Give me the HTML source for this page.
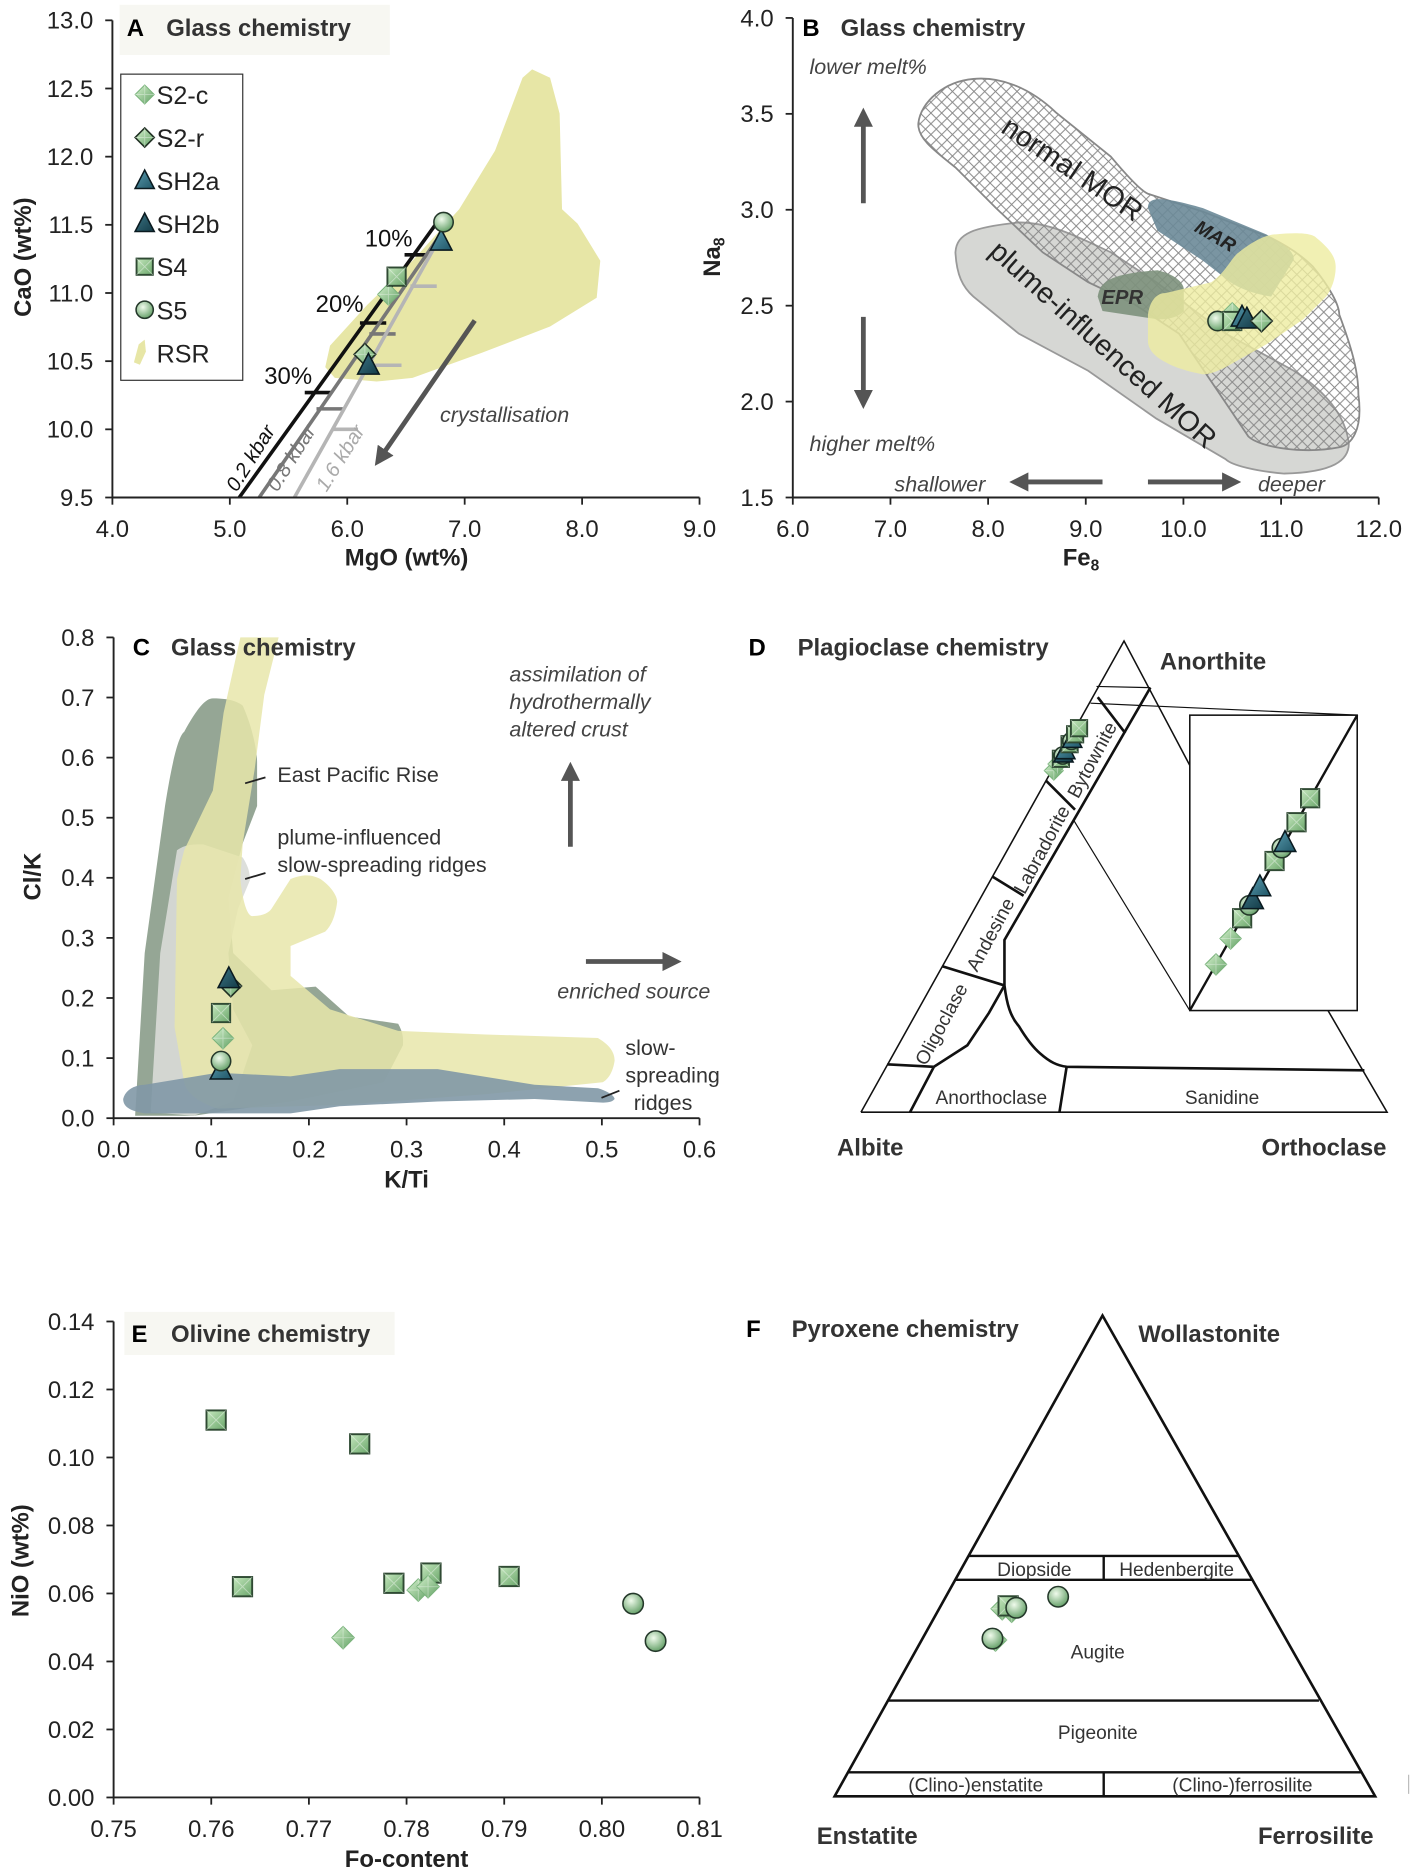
<!DOCTYPE html>
<html><head><meta charset="utf-8"><title>Glass, plagioclase, olivine and pyroxene chemistry</title>
<style>
html,body{margin:0;padding:0;background:#fff;}
svg{display:block;font-family:"Liberation Sans",Arial,sans-serif;}
.tk{font-size:20px;fill:#222;}
.ttl{font-size:20px;font-weight:bold;fill:#333;}
.lbl{font-size:18px;fill:#333;}
.it{font-size:18px;font-style:italic;fill:#444;}
.ax{font-size:20px;font-weight:bold;fill:#222;}
</style></head>
<body>
<svg id="fig" width="1417" height="1874" viewBox="0 0 1185 1567" preserveAspectRatio="none" xmlns="http://www.w3.org/2000/svg">
<defs>
<linearGradient id="gD" x1="0" y1="0" x2="1" y2="1"><stop offset="0" stop-color="#d8f3d0"/><stop offset="1" stop-color="#5f9f62"/></linearGradient>
<linearGradient id="gS" x1="0" y1="0" x2="1" y2="1"><stop offset="0" stop-color="#c6e8bf"/><stop offset="1" stop-color="#6aa66a"/></linearGradient>
<radialGradient id="gC" cx="0.4" cy="0.35" r="0.7"><stop offset="0" stop-color="#f0fbec"/><stop offset="1" stop-color="#5e9c62"/></radialGradient>
<linearGradient id="gT" x1="0" y1="0" x2="1" y2="1"><stop offset="0" stop-color="#5b9db0"/><stop offset="1" stop-color="#1f5566"/></linearGradient>
<linearGradient id="gT2" x1="0" y1="0" x2="1" y2="1"><stop offset="0" stop-color="#3d7585"/><stop offset="1" stop-color="#133b47"/></linearGradient>
<pattern id="hatch" width="9" height="9" patternUnits="userSpaceOnUse"><path d="M0 0L9 9M9 0L0 9" stroke="#888" stroke-width="0.8"/></pattern>
<marker id="ah" markerWidth="4" markerHeight="4" refX="2" refY="2" orient="auto"><path d="M0 0L4 2L0 4z" fill="#555"/></marker>
</defs>

<!-- ================= PANEL A ================= -->
<g>
  <rect x="100" y="4" width="226" height="42" fill="#f7f7f2"/>
  <text x="106" y="30" class="ttl" style="fill:#000">A</text>
  <text x="139" y="30" class="ttl">Glass chemistry</text>
  <path fill="#e7e6a6" d="M272,307 L276,289 L307,255 L345,218 L384,175 L414,126 L437,65 L445,58 L460,65 L468,95 L470,175 L483,187 L502,218 L499,249 L460,273 L403,295 L345,316 L315,319 L280,316 Z"/>
  <g id="aModel"></g>
  <g id="aMarks"></g>
  <g id="aAxes"></g>
  <line x1="397" y1="268" x2="318" y2="383" stroke="#555" stroke-width="4" marker-end="url(#ah)"/>
  <text x="368" y="353" class="it">crystallisation</text>
  <text x="305" y="206" style="font-size:20px;fill:#111">10%</text>
  <text x="264" y="261" style="font-size:20px;fill:#111">20%</text>
  <text x="221" y="321" style="font-size:20px;fill:#111">30%</text>
  <text transform="translate(198,412) rotate(-58)" style="font-size:17px;font-style:italic;fill:#111">0.2 kbar</text>
  <text transform="translate(232,412) rotate(-58)" style="font-size:17px;font-style:italic;fill:#777">0.8 kbar</text>
  <text transform="translate(273,412) rotate(-58)" style="font-size:17px;font-style:italic;fill:#aaa">1.6 kbar</text>
  <g>
    <rect x="101" y="62" width="102" height="256" fill="#fff" stroke="#333" stroke-width="1"/>
    <g id="legendMarks"></g>
    <text x="131" y="87" style="font-size:21px;fill:#222">S2-c</text>
    <text x="131" y="123" style="font-size:21px;fill:#222">S2-r</text>
    <text x="131" y="159" style="font-size:21px;fill:#222">SH2a</text>
    <text x="131" y="195" style="font-size:21px;fill:#222">SH2b</text>
    <text x="131" y="231" style="font-size:21px;fill:#222">S4</text>
    <text x="131" y="267" style="font-size:21px;fill:#222">S5</text>
    <path d="M112,303 L116,288 L121,284 L122,294 L117,305 Z" fill="#e7e6a6"/>
    <text x="131" y="303" style="font-size:21px;fill:#222">RSR</text>
  </g>
  <text transform="translate(26,215) rotate(-90)" text-anchor="middle" class="ax">CaO (wt%)</text>
  <text x="340" y="473" text-anchor="middle" class="ax">MgO (wt%)</text>
</g>

<!-- ================= PANEL B ================= -->
<g>
  <text x="671" y="30" class="ttl" style="fill:#000">B</text>
  <text x="703" y="30" class="ttl">Glass chemistry</text>
  <path fill="#cfd0cc" fill-opacity="0.85" stroke="#999" stroke-width="1.5" d="M799,211 C800,195 814,190 852,186 C880,186 905,200 929,211 L967,236 L1025,279 L1082,310 C1105,325 1125,345 1128,371 C1128,385 1115,395 1074,396 C1050,394 1030,389 1025,384 L967,350 L910,310 L852,279 L814,248 C805,240 800,230 799,211 Z"/>
  <path fill="url(#hatch)" stroke="#888" stroke-width="1.5" d="M768,103 C770,85 790,68 814,66 C835,64 860,72 883,94 L929,131 C945,150 955,160 960,162 L1006,177 L1063,199 C1085,210 1095,220 1098,223 C1112,240 1120,255 1120,263 C1130,290 1136,310 1136,330 C1140,360 1130,372 1120,374 C1100,378 1085,376 1082,376 C1060,374 1048,369 1044,365 L1017,325 L986,279 L948,254 L910,236 L872,211 L833,174 L799,140 C780,125 767,115 768,103 Z"/>
  <path fill="#6b8998" fill-opacity="0.9" d="M960,174 C960,165 968,163 1006,174 L1059,196 C1075,205 1082,210 1082,217 L1063,248 C1045,245 1035,240 1029,236 L1006,218 L968,193 Z"/>
  <path fill="#7d917c" fill-opacity="0.9" d="M918,248 C920,235 929,229 968,226 C985,230 990,238 990,242 L990,260 C985,266 975,267 968,267 L922,260 Z"/>
  <path fill="#eeeca0" fill-opacity="0.8" d="M960,263 C962,250 968,245 975,245 L1013,236 C1025,228 1030,215 1036,211 C1050,200 1060,196 1067,196 C1085,194 1098,195 1101,199 C1112,208 1117,215 1117,223 C1117,235 1112,244 1109,248 L1090,267 L1059,288 L1025,307 C1015,312 1010,313 1006,313 C990,310 980,306 975,303 C963,297 960,290 960,285 Z"/>
  <text transform="translate(836,110) rotate(34)" style="font-size:24px;fill:#222">normal MOR</text>
  <text transform="translate(998,193) rotate(30)" style="font-size:16px;font-weight:bold;font-style:italic;fill:#222">MAR</text>
  <text x="921" y="254" style="font-size:17px;font-weight:bold;font-style:italic;fill:#333">EPR</text>
  <text transform="translate(826,212) rotate(42)" style="font-size:24px;fill:#222">plume-influenced MOR</text>
  <g id="bMarks"></g>
  <g id="bAxes"></g>
  <text x="677" y="62" class="it">lower melt%</text>
  <text x="677" y="377" class="it">higher melt%</text>
  <text x="748" y="411" class="it">shallower</text>
  <text x="1052" y="411" class="it">deeper</text>
  <line x1="722" y1="170" x2="722" y2="98" stroke="#555" stroke-width="4" marker-end="url(#ah)"/>
  <line x1="722" y1="265" x2="722" y2="334" stroke="#555" stroke-width="4" marker-end="url(#ah)"/>
  <line x1="922" y1="403" x2="852" y2="403" stroke="#555" stroke-width="4" marker-end="url(#ah)"/>
  <line x1="960" y1="403" x2="1030" y2="403" stroke="#555" stroke-width="4" marker-end="url(#ah)"/>
  <text transform="translate(602,215) rotate(-90)" text-anchor="middle" class="ax">Na<tspan style="font-size:13px" dy="4">8</tspan></text>
  <text x="904" y="473" text-anchor="middle" class="ax">Fe<tspan style="font-size:13px" dy="4">8</tspan></text>
</g>

<!-- ================= PANEL C ================= -->
<g>
  <path fill="#8a9c8a" fill-opacity="0.9" d="M113,933 L121,797 L138,674 C145,630 150,615 154,612 C165,592 172,584 178,584 C195,584 200,588 203,590 C212,610 215,630 215,637 L215,674 L203,705 L191,751 L195,797 L227,828 L264,825 L292,850 L333,856 C338,865 337,870 337,874 L321,905 L243,921 L162,933 Z"/>
  <path fill="#d9dbd7" fill-opacity="0.9" d="M126,930 L134,797 L148,711 C155,706 160,706 170,706 L203,717 C208,725 209,730 209,736 L199,760 L191,797 L195,844 L211,874 L195,921 L162,933 Z"/>
  <path fill="#e7e6aa" fill-opacity="0.85" d="M201,533 L233,533 L221,581 L213,643 L203,705 L201,735 C203,755 207,766 211,766 C220,766 225,763 227,760 L243,735 C255,730 262,732 268,735 C278,742 282,750 282,754 C280,770 275,776 272,779 L243,791 L243,816 L276,844 L333,862 L406,865 L500,868 C512,875 514,882 514,887 C512,900 506,904 504,905 L406,915 L284,924 L182,927 C160,920 155,910 154,905 L146,859 L148,735 L154,711 L178,661 L187,596 Z"/>
  <path fill="#8198a6" fill-opacity="0.9" d="M103,919 C105,910 115,907 121,907 L182,897 L243,900 L284,894 L366,894 L447,907 L500,910 C510,913 514,917 514,919 C512,922 506,922 504,922 L447,919 L366,921 L284,925 L243,931 L121,931 C108,929 103,925 103,919 Z"/>
  <text x="111" y="548" class="ttl" style="fill:#000">C</text>
  <text x="143" y="548" class="ttl">Glass chemistry</text>
  <g id="cMarks"></g>
  <g id="cAxes"></g>
  <line x1="205" y1="655" x2="222" y2="650" stroke="#222" stroke-width="1.5"/>
  <text x="232" y="654" class="lbl">East Pacific Rise</text>
  <line x1="205" y1="735" x2="222" y2="730" stroke="#222" stroke-width="1.5"/>
  <text x="232" y="706" class="lbl">plume-influenced</text>
  <text x="232" y="729" class="lbl">slow-spreading ridges</text>
  <text x="426" y="570" class="it">assimilation of</text>
  <text x="426" y="593" class="it">hydrothermally</text>
  <text x="426" y="616" class="it">altered crust</text>
  <line x1="477" y1="708" x2="477" y2="645" stroke="#555" stroke-width="4" marker-end="url(#ah)"/>
  <line x1="490" y1="804" x2="562" y2="804" stroke="#555" stroke-width="4" marker-end="url(#ah)"/>
  <text x="466" y="835" class="it">enriched source</text>
  <line x1="503" y1="918" x2="518" y2="912" stroke="#222" stroke-width="1.5"/>
  <text x="523" y="882" class="lbl">slow-</text>
  <text x="523" y="905" class="lbl">spreading</text>
  <text x="530" y="928" class="lbl">ridges</text>
  <text transform="translate(34,733) rotate(-90)" text-anchor="middle" class="ax">Cl/K</text>
  <text x="340" y="993" text-anchor="middle" class="ax">K/Ti</text>
</g>

<!-- ================= PANEL D ================= -->
<g fill="none" stroke="#111">
  <text x="626" y="548" class="ttl" style="fill:#000" stroke="none">D</text>
  <text x="667" y="548" class="ttl" stroke="none">Plagioclase chemistry</text>
  <text x="970" y="560" class="ttl" stroke="none">Anorthite</text>
  <text x="700" y="966" class="ttl" stroke="none">Albite</text>
  <text x="1055" y="966" class="ttl" stroke="none">Orthoclase</text>
  <path d="M720,930 L940,536 L995,640 M1110,844 L1160,930 L720,930" stroke-width="1.3"/>
  <path d="M962,575 L840,786 L840,824 C842,840 845,850 852,858 C858,868 864,876 870,881 C878,888 884,891 892,892 L1141,895" stroke-width="2.2"/>
  <path d="M917,574 L962,575" stroke-width="1"/>
  <path d="M918,583 L941,613 M875,653 L899,677 M830,733 L856,749 M788,808 L840,824 M742,890 L781,892" stroke-width="2.2"/>
  <path d="M840,824 L827,847 L809,874 L781,892 L761,930 M892,892 L886,930" stroke-width="2.2"/>
  <path d="M912,588 L1135,598 M898,686 L995,845" stroke-width="1"/>
  <rect x="995" y="598" width="140" height="247" fill="#fff" stroke-width="1.3"/>
  <line x1="995" y1="845" x2="1135" y2="598" stroke-width="2"/>
  <g stroke="none">
    <text transform="translate(918,638) rotate(-61.7)" text-anchor="middle" style="font-size:16px;fill:#333">Bytownite</text>
    <text transform="translate(876,713) rotate(-61.7)" text-anchor="middle" style="font-size:16px;fill:#333">Labradorite</text>
    <text transform="translate(833,784) rotate(-61.7)" text-anchor="middle" style="font-size:16px;fill:#333">Andesine</text>
    <text transform="translate(792,859) rotate(-61.7)" text-anchor="middle" style="font-size:16px;fill:#333">Oligoclase</text>
    <text x="829" y="923" text-anchor="middle" style="font-size:16px;fill:#333">Anorthoclase</text>
    <text x="1022" y="923" text-anchor="middle" style="font-size:16px;fill:#333">Sanidine</text>
  </g>
  <g id="dMarks" stroke="none"></g>
</g>

<!-- ================= PANEL E ================= -->
<g>
  <rect x="104" y="1097" width="226" height="36" fill="#f7f7f2"/>
  <text x="110" y="1122" class="ttl" style="fill:#000">E</text>
  <text x="143" y="1122" class="ttl">Olivine chemistry</text>
  <g id="eMarks"></g>
  <g id="eAxes"></g>
  <text transform="translate(24,1305) rotate(-90)" text-anchor="middle" class="ax">NiO (wt%)</text>
  <text x="340" y="1561" text-anchor="middle" class="ax">Fo-content</text>
</g>

<!-- ================= PANEL F ================= -->
<g fill="none" stroke="#111">
  <text x="624" y="1118" class="ttl" style="fill:#000" stroke="none">F</text>
  <text x="662" y="1118" class="ttl" stroke="none">Pyroxene chemistry</text>
  <text x="952" y="1122" class="ttl" stroke="none">Wollastonite</text>
  <text x="683" y="1542" class="ttl" stroke="none">Enstatite</text>
  <text x="1052" y="1542" class="ttl" stroke="none">Ferrosilite</text>
  <path d="M698,1502 L922,1100 L1150,1502 Z" stroke-width="2.2"/>
  <path d="M810,1301 L1036,1301 M799,1321 L1047,1321 M743,1422 L1103,1422 M709,1482 L1139,1482 M923,1301 L923,1321 M923,1482 L923,1502" stroke-width="2"/>
  <g stroke="none">
    <text x="865" y="1318" text-anchor="middle" style="font-size:16px;fill:#333">Diopside</text>
    <text x="984" y="1318" text-anchor="middle" style="font-size:16px;fill:#333">Hedenbergite</text>
    <text x="918" y="1387" text-anchor="middle" style="font-size:16px;fill:#333">Augite</text>
    <text x="918" y="1454" text-anchor="middle" style="font-size:16px;fill:#333">Pigeonite</text>
    <text x="816" y="1498" text-anchor="middle" style="font-size:16px;fill:#333">(Clino-)enstatite</text>
    <text x="1039" y="1498" text-anchor="middle" style="font-size:16px;fill:#333">(Clino-)ferrosilite</text>
  </g>
  <line x1="1178" y1="1484" x2="1178" y2="1500" stroke="#bbb" stroke-width="1"/>
  <g id="fMarks" stroke="none"></g>
</g>
</svg>

<script>
// ---------- DATA ----------
const aSamples = ['S2-c','S2-r','SH2a','SH2b','S4','S5'];
const aMgO = [6.35, 6.15, 6.80, 6.18, 6.42, 6.82];
const aCaO = [10.99, 10.55, 11.38, 10.47, 11.12, 11.52];
const aXTicks = [4.0, 5.0, 6.0, 7.0, 8.0, 9.0];
const aYTicks = [9.5, 10.0, 10.5, 11.0, 11.5, 12.0, 12.5, 13.0];
const model02MgO = [5.08, 6.75];
const model02CaO = [9.5, 11.5];
const model08MgO = [5.25, 6.85];
const model08CaO = [9.5, 11.5];
const model16MgO = [5.55, 6.85];
const model16CaO = [9.5, 11.5];
const tick02MgO = [5.75, 6.22, 6.60];
const tick02CaO = [10.27, 10.78, 11.28];
const tick08MgO = [5.85, 6.30];
const tick08CaO = [10.15, 10.70];
const tick16MgO = [5.98, 6.35, 6.65];
const tick16CaO = [10.00, 10.47, 11.05];
const bSamples = ['S5','S2-c','S4','SH2a','SH2b','S2-r'];
const bFe8 = [10.35, 10.50, 10.50, 10.60, 10.65, 10.80];
const bNa8 = [2.42, 2.46, 2.42, 2.44, 2.43, 2.42];
const bXTicks = [6.0, 7.0, 8.0, 9.0, 10.0, 11.0, 12.0];
const bYTicks = [1.5, 2.0, 2.5, 3.0, 3.5, 4.0];
const cSamples = ['SH2a','S5','S2-c','S4','S2-r','SH2b'];
const cKTi = [0.110, 0.110, 0.112, 0.110, 0.120, 0.118];
const cClK = [0.080, 0.095, 0.133, 0.175, 0.220, 0.232];
const cXTicks = [0.0, 0.1, 0.2, 0.3, 0.4, 0.5, 0.6];
const cYTicks = [0.0, 0.1, 0.2, 0.3, 0.4, 0.5, 0.6, 0.7, 0.8];
const dSamples = ['S2-c','S2-c','S4','S5','SH2b','SH2a','S4','S5','SH2a','S4','S4'];
const dAn = [0.725, 0.739, 0.750, 0.757, 0.760, 0.767, 0.781, 0.788, 0.791, 0.802, 0.815];
const dOr = [0.004, 0.004, 0.005, 0.005, 0.005, 0.005, 0.006, 0.006, 0.006, 0.006, 0.007];
const eSamples = ['S4','S4','S4','S4','S4','S4','S2-c','S2-c','S2-c','S5','S5'];
const eFo = [0.7605, 0.7752, 0.7632, 0.7787, 0.7825, 0.7905, 0.7735, 0.7812, 0.7822, 0.8032, 0.8055];
const eNiO = [0.111, 0.104, 0.062, 0.063, 0.066, 0.065, 0.047, 0.061, 0.062, 0.057, 0.046];
const eXTicks = [0.75, 0.76, 0.77, 0.78, 0.79, 0.80, 0.81];
const eYTicks = [0.00, 0.02, 0.04, 0.06, 0.08, 0.10, 0.12, 0.14];
const fSamples = ['S2-c','S2-c','S4','S5','S2-c','S5','S5'];
const fWo = [0.385, 0.390, 0.396, 0.392, 0.325, 0.328, 0.415];
const fFs = [0.135, 0.115, 0.123, 0.140, 0.135, 0.128, 0.206];

// ---------- SCALES ----------
const ax = v => 94 + (v - 4) * (491 / 5);
const ay = v => 416 - (v - 9.5) * (399 / 3.5);
const bx = v => 663 + (v - 6) * (490 / 6);
const by = v => 416 - (v - 1.5) * (401 / 2.5);
const cx = v => 95 + v * (490 / 0.6);
const cy = v => 935 - v * (402 / 0.8);
const ex = v => 95 + (v - 0.75) * (490 / 0.06);
const ey = v => 1503 - v * (398 / 0.14);
const dApex = [940, 536], dAb = [720, 930], dOrV = [1160, 930];
const dTx = (an, or) => dAb[0] + an * (dApex[0] - dAb[0]) + or * (dOrV[0] - dAb[0]);
const dTy = (an, or) => dAb[1] + an * (dApex[1] - dAb[1]);
const inX = an => 995 + ((an - 0.70) / 0.16) * 140;
const inY = an => 845 - ((an - 0.70) / 0.16) * 247;
const fx = (wo, fs) => 698 + (fs + wo / 2) * 452;
const fy = wo => 1502 - wo * 402;

const NS = 'http://www.w3.org/2000/svg';
function mk(tag, attrs, parent) {
  const e = document.createElementNS(NS, tag);
  for (const k in attrs) e.setAttribute(k, attrs[k]);
  parent.appendChild(e);
  return e;
}

function marker(parent, type, x, y, s) {
  const g = mk('g', {}, parent);
  
  
  if (type === 'S2-c' || type === 'S2-r') {
    mk('polygon', {points: `${x},${y-s} ${x+s},${y} ${x},${y+s} ${x-s},${y}`, fill: 'url(#gD)',
      stroke: type === 'S2-r' ? '#1f2f22' : '#78b27a', 'stroke-width': type === 'S2-r' ? 1.3 : 0.8}, g);
    mk('path', {d: `M${x-s} ${y}L${x+s} ${y}M${x} ${y-s}L${x} ${y+s}`, stroke: '#ffffff', 'stroke-opacity': 0.35, 'stroke-width': 0.8}, g);
  } else if (type === 'SH2a' || type === 'SH2b') {
    const h = s * 1.1;
    mk('polygon', {points: `${x},${y-h} ${x+s},${y+h*0.75} ${x-s},${y+h*0.75}`,
      fill: type === 'SH2a' ? 'url(#gT)' : 'url(#gT2)', stroke: '#0a1a20', 'stroke-width': 1.3}, g);
  } else if (type === 'S4') {
    const q = s * 0.85;
    mk('rect', {x: x-q, y: y-q, width: 2*q, height: 2*q, fill: 'url(#gS)', stroke: '#2f4a33', 'stroke-width': 1.6}, g);
    mk('path', {d: `M${x-q} ${y-q}L${x+q} ${y+q}M${x+q} ${y-q}L${x-q} ${y+q}`, stroke: '#ffffff', 'stroke-opacity': 0.4, 'stroke-width': 0.8}, g);
  } else {
    mk('circle', {cx: x, cy: y, r: s*0.9, fill: 'url(#gC)', stroke: '#24382a', 'stroke-width': 1.3}, g);
  }
  return g;
}

function axes(parent, x0, x1, y0, y1, xt, yt, xs, ys, xfmt, yfmt) {
  const xl = mk('line', {x1: x0, y1: y0, x2: x1, y2: y0, stroke: '#222', 'stroke-width': 1.6}, parent);
  
  
  const yl = mk('line', {x1: x0, y1: y0, x2: x0, y2: y1, stroke: '#222', 'stroke-width': 1.6}, parent);
  
  
  xt.forEach(v => {
    const px = xs(v);
    const t = mk('line', {x1: px, y1: y0, x2: px, y2: y0 + 6, stroke: '#222', 'stroke-width': 1.5}, parent);
    
    
    const l = mk('text', {x: px, y: y0 + 33, 'text-anchor': 'middle', class: 'tk'}, parent);
    l.textContent = xfmt(v);
    
    
  });
  yt.forEach(v => {
    const py = ys(v);
    const t = mk('line', {x1: x0 - 6, y1: py, x2: x0, y2: py, stroke: '#222', 'stroke-width': 1.5}, parent);
    
    
    const l = mk('text', {x: x0 - 16, y: py + 7, 'text-anchor': 'end', class: 'tk'}, parent);
    l.textContent = yfmt(v);
    
    
  });
}

const aModel = document.getElementById('aModel');
[[model02MgO, model02CaO, '#111', tick02MgO, tick02CaO, '0-2'],
 [model08MgO, model08CaO, '#777', tick08MgO, tick08CaO, '0-8'],
 [model16MgO, model16CaO, '#b5b5b5', tick16MgO, tick16CaO, '1-6']].forEach(m => {
  const ln = mk('line', {x1: ax(m[0][0]), y1: ay(m[1][0]), x2: ax(m[0][1]), y2: ay(m[1][1]), stroke: m[2], 'stroke-width': 3}, aModel);
  
  
  m[3].forEach((v, i) => {
    const t = mk('line', {x1: ax(v) - 11, y1: ay(m[4][i]), x2: ax(v) + 11, y2: ay(m[4][i]), stroke: m[2], 'stroke-width': 3}, aModel);
    
    
  });
});
const aMarks = document.getElementById('aMarks');
aSamples.forEach((s, i) => marker(aMarks, s, ax(aMgO[i]), ay(aCaO[i]), 9));
axes(document.getElementById('aAxes'), 94, 585, 416, 17, aXTicks, aYTicks, ax, ay, v => v.toFixed(1), v => v.toFixed(1));

const lg = document.getElementById('legendMarks');
aSamples.forEach((s, i) => marker(lg, s, 121, 79 + i * 36, 8));

const bMarks = document.getElementById('bMarks');
bSamples.forEach((s, i) => marker(bMarks, s, bx(bFe8[i]), by(bNa8[i]), 9));
axes(document.getElementById('bAxes'), 663, 1153, 416, 15, bXTicks, bYTicks, bx, by, v => v.toFixed(1), v => v.toFixed(1));

const cMarks = document.getElementById('cMarks');
cSamples.forEach((s, i) => marker(cMarks, s, cx(cKTi[i]), cy(cClK[i]), 9));
axes(document.getElementById('cAxes'), 95, 585, 935, 533, cXTicks, cYTicks, cx, cy, v => v.toFixed(1), v => v.toFixed(1));

const dMarks = document.getElementById('dMarks');
dSamples.forEach((s, i) => marker(dMarks, s, dTx(dAn[i], dOr[i]), dTy(dAn[i], dOr[i]), 8));
dSamples.forEach((s, i) => marker(dMarks, s, inX(dAn[i]), inY(dAn[i]), 9));

const eMarks = document.getElementById('eMarks');
eSamples.forEach((s, i) => marker(eMarks, s, ex(eFo[i]), ey(eNiO[i]), 9.5));
axes(document.getElementById('eAxes'), 95, 585, 1503, 1105, eXTicks, eYTicks, ex, ey, v => v.toFixed(2), v => v.toFixed(2));

const fMarks = document.getElementById('fMarks');
fSamples.forEach((s, i) => marker(fMarks, s, fx(fWo[i], fFs[i]), fy(fWo[i]), 9.5));
</script>
</body></html>
